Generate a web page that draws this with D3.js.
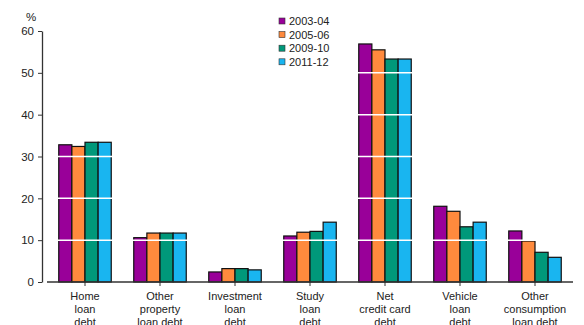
<!DOCTYPE html>
<html>
<head>
<meta charset="utf-8">
<script src="https://cdn.jsdelivr.net/npm/d3@7"></script>
<style>
  body { margin: 0; background: #fff; }
  svg { display: block; }
  text { font-family: "Liberation Sans", "Noto Sans", sans-serif; fill: #222; }
</style>
</head>
<body>
<svg id="chart" width="584" height="325"></svg>
<script>
// Debt types (multi-line labels) and survey years
const categories = [
  ["Home", "loan", "debt"],
  ["Other", "property", "loan debt"],
  ["Investment", "loan", "debt"],
  ["Study", "loan", "debt"],
  ["Net", "credit card", "debt"],
  ["Vehicle", "loan", "debt"],
  ["Other", "consumption", "loan debt"]
];
const years = ["2003-04", "2005-06", "2009-10", "2011-12"];
const colors = ["#990099", "#ff8a3d", "#00987a", "#19b5f0"];

// Percentage of households holding each type of debt
const v2003 = [32.8, 10.6, 2.4, 11.0, 56.9, 18.1, 12.2];
const v2005 = [32.4, 11.7, 3.2, 11.9, 55.5, 16.9, 9.8];
const v2009 = [33.4, 11.7, 3.2, 12.1, 53.3, 13.2, 7.1];
const v2011 = [33.4, 11.7, 2.9, 14.3, 53.3, 14.3, 5.9];
const series = [v2003, v2005, v2009, v2011];

const yTicks = [0, 10, 20, 30, 40, 50, 60];

const svg = d3.select("#chart");
const margin = { left: 42, top: 31, bottom: 282 };

const x = d3.scaleBand()
  .domain(d3.range(categories.length))
  .range([47.5, 572.5])
  .paddingInner(0.3)
  .paddingOuter(0.15);

const xSub = d3.scaleBand()
  .domain(d3.range(years.length))
  .range([0, x.bandwidth()]);

const y = d3.scaleLinear().domain([0, 60]).range([margin.bottom, margin.top]);

// Bars
const groups = svg.append("g").selectAll("g")
  .data(categories)
  .join("g")
  .attr("transform", (d, i) => `translate(${x(i)},0)`);

groups.selectAll("rect")
  .data((d, i) => series.map((s, k) => ({ k, v: s[i] })))
  .join("rect")
  .attr("x", d => xSub(d.k))
  .attr("y", d => y(d.v))
  .attr("width", xSub.bandwidth())
  .attr("height", d => y(0) - y(d.v))
  .attr("fill", d => colors[d.k])
  .attr("stroke", "#111")
  .attr("stroke-width", 1.2);

// White gridlines running across the bars
svg.append("g").selectAll("line")
  .data(yTicks.filter(t => t > 0))
  .join("line")
  .attr("x1", 47).attr("x2", 573)
  .attr("y1", d => y(d)).attr("y2", d => y(d))
  .attr("stroke", "#fff")
  .attr("stroke-width", 1.5);

// Y axis
const yAxis = svg.append("g")
  .attr("transform", `translate(${margin.left},0)`)
  .call(d3.axisLeft(y).tickValues(yTicks).tickSize(4).tickSizeOuter(0).tickPadding(4));
yAxis.select(".domain").attr("stroke", "#333").attr("stroke-width", 1.3);
yAxis.selectAll(".tick line").attr("stroke", "#333");
yAxis.selectAll(".tick text")
  .style("font-size", "11.5px")
  .style("font-family", "'Liberation Sans', sans-serif")
  .attr("fill", "#222");

svg.append("text")
  .attr("x", 31).attr("y", 21)
  .attr("text-anchor", "middle")
  .style("font-size", "11.5px")
  .text("%");

// X axis
const xAxis = svg.append("g")
  .attr("transform", `translate(0,${margin.bottom})`)
  .call(d3.axisBottom(x).tickSize(4).tickSizeOuter(0).tickFormat(""));
xAxis.select(".domain").attr("stroke", "#333").attr("stroke-width", 1.3)
  .attr("d", "M47,0H573");
xAxis.selectAll(".tick line").attr("stroke", "#333");

// Category labels
svg.append("g").selectAll("text")
  .data(categories)
  .join("text")
  .attr("x", (d, i) => x(i) + x.bandwidth() / 2)
  .attr("y", 300)
  .attr("text-anchor", "middle")
  .style("font-size", "11px")
  .selectAll("tspan")
  .data(d => d)
  .join("tspan")
  .attr("x", function () { return this.parentNode.getAttribute("x"); })
  .attr("dy", (d, j) => j === 0 ? 0 : 13)
  .text(d => d);

// Legend
const legend = svg.append("g").selectAll("g")
  .data(years)
  .join("g")
  .attr("transform", (d, i) => `translate(279,${21 + i * 13.6})`);
legend.append("rect")
  .attr("x", 0).attr("y", -3)
  .attr("width", 6).attr("height", 6)
  .attr("fill", (d, i) => colors[i])
  .attr("stroke", "#333").attr("stroke-width", 0.6);
legend.append("text")
  .attr("x", 10).attr("y", 4)
  .style("font-size", "11px")
  .text(d => d);
</script>
</body>
</html>
